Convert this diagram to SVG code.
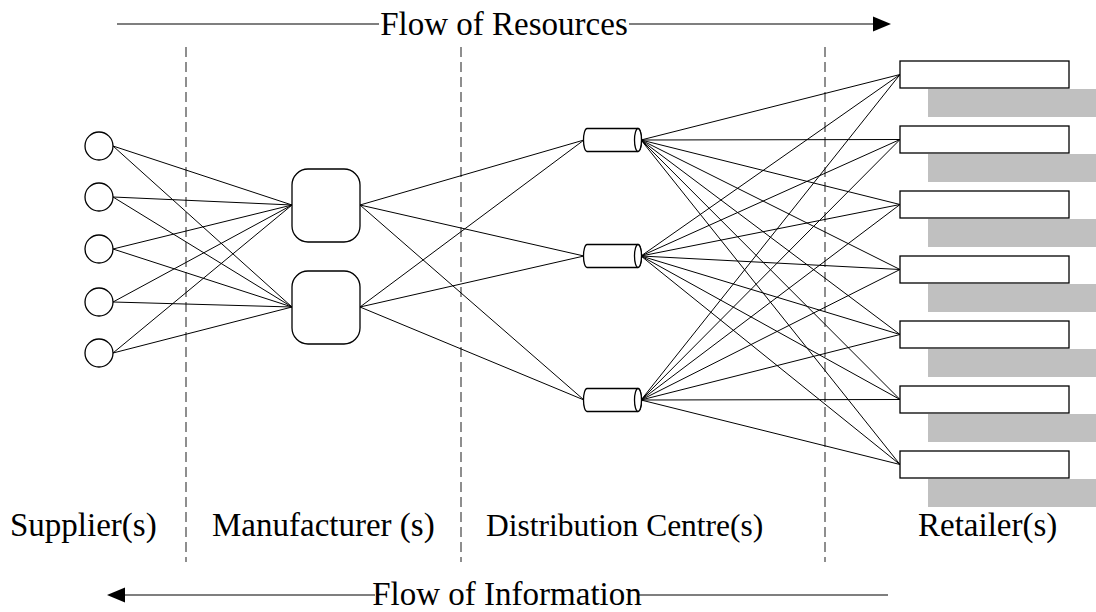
<svg xmlns="http://www.w3.org/2000/svg" width="1096" height="612" viewBox="0 0 1096 612">
<style>
.ln{stroke:#000;stroke-width:1;fill:none}
.dash{stroke:#444;stroke-width:1.2;stroke-dasharray:10,5;fill:none}
.nd{fill:#fff;stroke:#000;stroke-width:1.3}
.sh{fill:#c0c0c0;stroke:none}
.lbl{font-family:"Liberation Serif","Times New Roman",serif;font-size:33px;fill:#000}
.flow{font-family:"Liberation Serif","Times New Roman",serif;font-size:33px;fill:#000}
</style>
<defs>
<g id="cyl">
<path d="M587,-11.5 H638 A3.5,11.5 0 0 1 638,11.5 H587 A3.5,11.5 0 0 1 587,-11.5 Z" class="nd"/>
<ellipse cx="638" cy="0" rx="3.5" ry="11.5" class="nd"/>
</g>
</defs>
<rect width="1096" height="612" fill="#fff"/>
<g id="dividers">
<line x1="186" y1="47" x2="186" y2="562" class="dash"/>
<line x1="461" y1="47" x2="461" y2="562" class="dash"/>
<line x1="825" y1="47" x2="825" y2="562" class="dash"/>
</g>
<g id="connectors" class="ln">
<line x1="113" y1="146" x2="292" y2="205"/><line x1="113" y1="146" x2="292" y2="307"/>
<line x1="113" y1="197" x2="292" y2="205"/><line x1="113" y1="197" x2="292" y2="307"/>
<line x1="113" y1="249" x2="292" y2="205"/><line x1="113" y1="249" x2="292" y2="307"/>
<line x1="113" y1="302" x2="292" y2="205"/><line x1="113" y1="302" x2="292" y2="307"/>
<line x1="113" y1="353" x2="292" y2="205"/><line x1="113" y1="353" x2="292" y2="307"/>
<line x1="360" y1="205" x2="584" y2="140"/><line x1="360" y1="205" x2="584" y2="256"/><line x1="360" y1="205" x2="584" y2="400"/>
<line x1="360" y1="307" x2="584" y2="140"/><line x1="360" y1="307" x2="584" y2="256"/><line x1="360" y1="307" x2="584" y2="400"/>
<line x1="641" y1="140" x2="900" y2="74.5"/><line x1="641" y1="140" x2="900" y2="139.5"/><line x1="641" y1="140" x2="900" y2="204.5"/><line x1="641" y1="140" x2="900" y2="269.5"/><line x1="641" y1="140" x2="900" y2="334.5"/><line x1="641" y1="140" x2="900" y2="399.5"/><line x1="641" y1="140" x2="900" y2="464.5"/>
<line x1="641" y1="256" x2="900" y2="74.5"/><line x1="641" y1="256" x2="900" y2="139.5"/><line x1="641" y1="256" x2="900" y2="204.5"/><line x1="641" y1="256" x2="900" y2="269.5"/><line x1="641" y1="256" x2="900" y2="334.5"/><line x1="641" y1="256" x2="900" y2="399.5"/><line x1="641" y1="256" x2="900" y2="464.5"/>
<line x1="641" y1="400" x2="900" y2="74.5"/><line x1="641" y1="400" x2="900" y2="139.5"/><line x1="641" y1="400" x2="900" y2="204.5"/><line x1="641" y1="400" x2="900" y2="269.5"/><line x1="641" y1="400" x2="900" y2="334.5"/><line x1="641" y1="400" x2="900" y2="399.5"/><line x1="641" y1="400" x2="900" y2="464.5"/>
</g>
<g id="suppliers">
<circle cx="99" cy="146" r="14" class="nd"/>
<circle cx="99" cy="197" r="14" class="nd"/>
<circle cx="99" cy="249" r="14" class="nd"/>
<circle cx="99" cy="302" r="14" class="nd"/>
<circle cx="99" cy="353" r="14" class="nd"/>
</g>
<g id="manufacturers">
<rect x="292" y="169" width="68" height="73" rx="16" class="nd"/>
<rect x="292" y="271" width="68" height="73" rx="16" class="nd"/>
</g>
<g id="distribution">
<use href="#cyl" transform="translate(0,140)"/>
<use href="#cyl" transform="translate(0,256)"/>
<use href="#cyl" transform="translate(0,400)"/>
</g>
<g id="retailers">
<rect x="928" y="89" width="170" height="28" class="sh"/><rect x="900" y="61" width="169" height="27" class="nd"/>
<rect x="928" y="154" width="170" height="28" class="sh"/><rect x="900" y="126" width="169" height="27" class="nd"/>
<rect x="928" y="219" width="170" height="28" class="sh"/><rect x="900" y="191" width="169" height="27" class="nd"/>
<rect x="928" y="284" width="170" height="28" class="sh"/><rect x="900" y="256" width="169" height="27" class="nd"/>
<rect x="928" y="349" width="170" height="28" class="sh"/><rect x="900" y="321" width="169" height="27" class="nd"/>
<rect x="928" y="414" width="170" height="28" class="sh"/><rect x="900" y="386" width="169" height="27" class="nd"/>
<rect x="928" y="479" width="170" height="28" class="sh"/><rect x="900" y="451" width="169" height="27" class="nd"/>
</g>
<g id="labels">
<text x="10" y="536" class="lbl">Supplier(s)</text>
<text x="212" y="536" class="lbl">Manufacturer (s)</text>
<text x="486" y="536" class="lbl" style="font-size:31.5px">Distribution Centre(s)</text>
<text x="918" y="536" class="lbl">Retailer(s)</text>
</g>
<g id="flow-resources">
<line x1="117" y1="24" x2="379" y2="24" stroke="#000" stroke-width="1.2"/>
<line x1="629" y1="24" x2="875" y2="24" stroke="#000" stroke-width="1.2"/>
<polygon points="873,16.5 891,24 873,31.5" fill="#000"/>
<text x="504" y="35" class="flow" text-anchor="middle">Flow of Resources</text>
</g>
<g id="flow-information">
<line x1="122" y1="595" x2="375" y2="595" stroke="#000" stroke-width="1.2"/>
<line x1="639" y1="595" x2="888" y2="595" stroke="#000" stroke-width="1.2"/>
<polygon points="125,587.5 107,595 125,602.5" fill="#000"/>
<text x="507" y="605" class="flow" text-anchor="middle">Flow of Information</text>
</g>
</svg>
